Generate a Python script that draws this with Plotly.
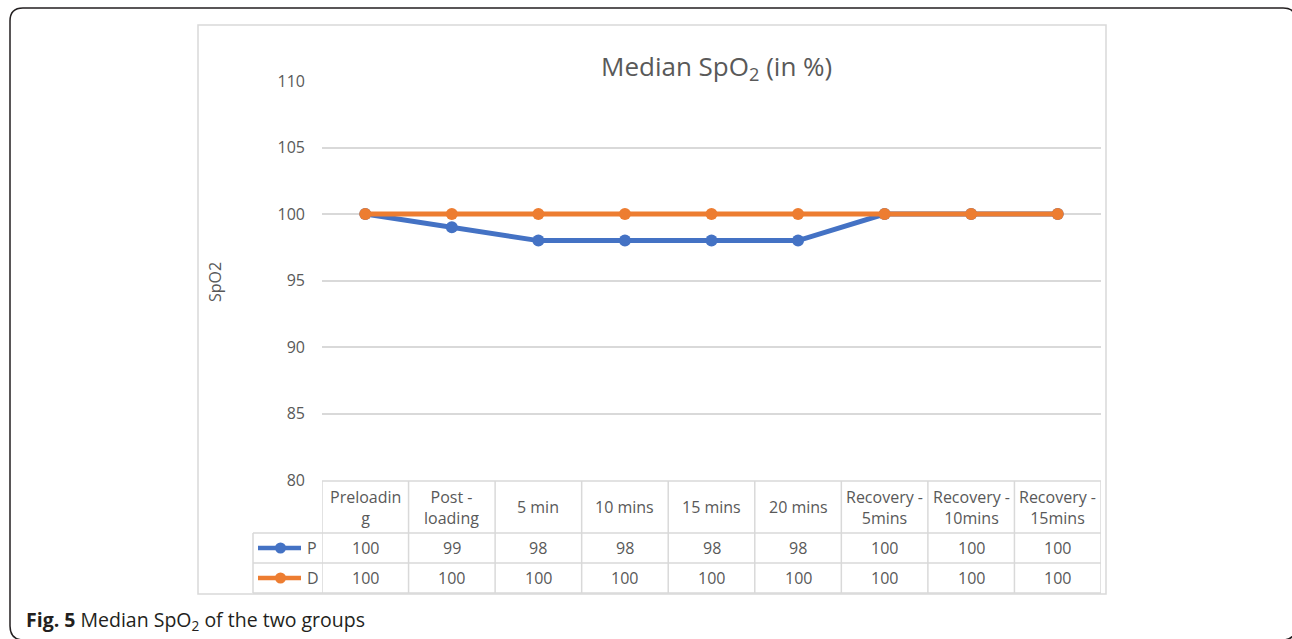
import plotly.graph_objects as go

W, H = 1292, 639

categories = ["Preloading", "Post - loading", "5 min", "10 mins", "15 mins",
              "20 mins", "Recovery - 5mins", "Recovery - 10mins", "Recovery - 15mins"]
header_labels = ["Preloadin<br>g", "Post -<br>loading", "5 min", "10 mins", "15 mins",
                 "20 mins", "Recovery -<br>5mins", "Recovery -<br>10mins", "Recovery -<br>15mins"]
p_values = [100, 99, 98, 98, 98, 98, 100, 100, 100]
d_values = [100, 100, 100, 100, 100, 100, 100, 100, 100]
y_ticks = [80, 85, 90, 95, 100, 105, 110]

BLUE = "#4472C4"
ORANGE = "#ED7D31"
GRAY_TXT = "#595959"
GRID = "#D9D9D9"
FONT = "Open Sans"


def fx(px):
    return px / W


def fy(py):
    return 1 - py / H


fig = go.Figure()
fig.add_trace(go.Scatter(x=categories, y=p_values, mode="lines+markers", name="P",
                         line=dict(color=BLUE, width=5),
                         marker=dict(color=BLUE, size=12)))
fig.add_trace(go.Scatter(x=categories, y=d_values, mode="lines+markers", name="D",
                         line=dict(color=ORANGE, width=5),
                         marker=dict(color=ORANGE, size=12)))

shapes = []
annotations = []

# outer rounded frame
path = (f"M {fx(10)},{fy(626)} L {fx(10)},{fy(21)} Q {fx(10)},{fy(8)} {fx(23)},{fy(8)} "
        f"L {fx(1283)},{fy(8)} Q {fx(1296)},{fy(8)} {fx(1296)},{fy(21)} L {fx(1296)},{fy(626)} "
        f"Q {fx(1296)},{fy(640)} {fx(1282)},{fy(640)} L {fx(24)},{fy(640)} "
        f"Q {fx(10)},{fy(640)} {fx(10)},{fy(626)}")
shapes.append(dict(type="path", xref="paper", yref="paper", path=path,
                   line=dict(color="#231F20", width=1.5)))

# inner chart border
shapes.append(dict(type="rect", xref="paper", yref="paper",
                   x0=fx(198), x1=fx(1106), y0=fy(594), y1=fy(25),
                   line=dict(color=GRID, width=1.5), fillcolor="rgba(0,0,0,0)"))

# data table grid
row_edges = [481, 533, 563, 593]
n = len(categories)
for i in range(n + 1):
    shapes.append(dict(type="line", xref="x", yref="paper", x0=i - 0.5, x1=i - 0.5,
                       y0=fy(row_edges[0]), y1=fy(row_edges[-1]),
                       line=dict(color=GRID, width=1.5)))
for k, r in enumerate(row_edges):
    x0 = fx(322) if k == 0 else fx(253)
    shapes.append(dict(type="line", xref="paper", yref="paper", x0=x0, x1=fx(1101),
                       y0=fy(r), y1=fy(r), line=dict(color=GRID, width=1.5)))
shapes.append(dict(type="line", xref="paper", yref="paper", x0=fx(253), x1=fx(253),
                   y0=fy(533), y1=fy(593), line=dict(color=GRID, width=1.5)))

# header labels and values
for c, lab, pv, dv in zip(categories, header_labels, p_values, d_values):
    annotations.append(dict(x=c, xref="x", y=fy(507), yref="paper", text=lab,
                            showarrow=False, xanchor="center", yanchor="middle",
                            font=dict(family=FONT, size=16, color=GRAY_TXT)))
    annotations.append(dict(x=c, xref="x", y=fy(548), yref="paper", text=str(pv),
                            showarrow=False, xanchor="center", yanchor="middle",
                            font=dict(family=FONT, size=16, color=GRAY_TXT)))
    annotations.append(dict(x=c, xref="x", y=fy(578), yref="paper", text=str(dv),
                            showarrow=False, xanchor="center", yanchor="middle",
                            font=dict(family=FONT, size=16, color=GRAY_TXT)))

# legend keys in table
for name, col, yc in [("P", BLUE, 548), ("D", ORANGE, 578)]:
    shapes.append(dict(type="line", xref="paper", yref="paper", x0=fx(258), x1=fx(301),
                       y0=fy(yc), y1=fy(yc), line=dict(color=col, width=4.5)))
    shapes.append(dict(type="circle", xref="paper", yref="paper",
                       x0=fx(275), x1=fx(286), y0=fy(yc + 5.5), y1=fy(yc - 5.5),
                       fillcolor=col, line=dict(color=col, width=0)))
    annotations.append(dict(x=fx(305), xref="paper", y=fy(yc), yref="paper", text=name,
                            showarrow=False, xanchor="left", yanchor="middle",
                            font=dict(family=FONT, size=16, color=GRAY_TXT)))

# title
annotations.append(dict(x=fx(716), xref="paper", y=fy(67), yref="paper",
                        text="Median SpO<sub>2</sub> (in %)", showarrow=False,
                        xanchor="center", yanchor="middle",
                        font=dict(family=FONT, size=26, color=GRAY_TXT)))
# y-axis title
annotations.append(dict(x=fx(215), xref="paper", y=fy(282), yref="paper",
                        text="SpO2", showarrow=False, textangle=-90,
                        xanchor="center", yanchor="middle",
                        font=dict(family=FONT, size=16, color=GRAY_TXT)))
# caption
annotations.append(dict(x=fx(24), xref="paper", y=fy(620), yref="paper",
                        text="<b>Fig. 5</b> Median SpO<sub>2</sub> of the two groups",
                        showarrow=False, xanchor="left", yanchor="middle",
                        font=dict(family=FONT, size=19.5, color="#231F20")))

fig.update_layout(
    width=W, height=H, autosize=False,
    margin=dict(l=0, r=0, t=0, b=0, pad=0, autoexpand=False),
    paper_bgcolor="white", plot_bgcolor="white",
    showlegend=False,
    shapes=shapes, annotations=annotations,
    xaxis=dict(domain=[fx(322), fx(1101)], type="category", range=[-0.5, n - 0.5],
               showticklabels=False, showgrid=False, zeroline=False, showline=False,
               automargin=False),
    yaxis=dict(domain=[fy(480), fy(81)], range=[80, 110], tickvals=y_ticks,
               showgrid=True, gridcolor=GRID, gridwidth=1.5, zeroline=False,
               showline=False, ticks="", ticklabelstandoff=16, automargin=False,
               tickfont=dict(family=FONT, size=16, color=GRAY_TXT)),
)

fig.write_html("out.html", config={"responsive": False, "displayModeBar": False},
               post_script="document.body.style.margin='0';document.body.style.overflow='hidden';")
